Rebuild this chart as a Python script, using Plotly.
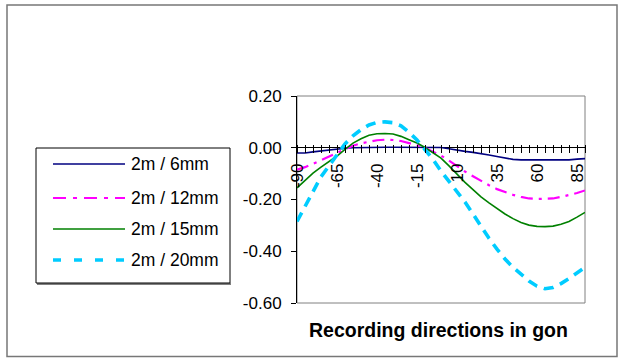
import plotly.graph_objects as go

gon = list(range(-90, 91, 5))
s6mm = [-0.020, -0.020, -0.016, -0.012, -0.010, -0.006, -0.002, 0.000, 0.001, 0.002,
        0.002, 0.002, 0.002, 0.002, 0.002, 0.002, 0.002, 0.002, 0.001, -0.004,
        -0.010, -0.014, -0.018, -0.022, -0.028, -0.034, -0.040, -0.045, -0.047, -0.047,
        -0.047, -0.047, -0.047, -0.047, -0.047, -0.044, -0.042]
s12mm = [-0.085, -0.075, -0.062, -0.048, -0.034, -0.020, -0.004, 0.008, 0.017, 0.024,
         0.029, 0.031, 0.030, 0.026, 0.019, 0.010, 0.000, -0.014, -0.030, -0.050,
         -0.072, -0.092, -0.110, -0.128, -0.145, -0.160, -0.172, -0.182, -0.190, -0.196,
         -0.198, -0.198, -0.196, -0.190, -0.183, -0.175, -0.165]
s15mm = [-0.155, -0.128, -0.098, -0.075, -0.054, -0.032, -0.006, 0.018, 0.035, 0.048,
         0.054, 0.055, 0.053, 0.044, 0.031, 0.018, 0.001, -0.018, -0.040, -0.070,
         -0.103, -0.134, -0.162, -0.190, -0.213, -0.235, -0.256, -0.274, -0.289, -0.299,
         -0.304, -0.305, -0.303, -0.296, -0.285, -0.268, -0.250]
s20mm = [-0.285, -0.228, -0.165, -0.112, -0.070, -0.030, 0.015, 0.046, 0.070, 0.088,
         0.098, 0.100, 0.097, 0.085, 0.060, 0.030, -0.005, -0.045, -0.090, -0.130,
         -0.165, -0.210, -0.256, -0.305, -0.350, -0.392, -0.430, -0.462, -0.490, -0.515,
         -0.535, -0.545, -0.540, -0.525, -0.505, -0.485, -0.462]
series_names = ["2m / 6mm", "2m / 12mm", "2m / 15mm", "2m / 20mm"]
x_label_values = [-90, -65, -40, -15, 10, 35, 60, 85]
y_tick_values = [0.20, 0.00, -0.20, -0.40, -0.60]
y_tick_labels = ["0.20", "0.00", "-0.20", "-0.40", "-0.60"]
x_title = "Recording directions in gon"

styles = [
    dict(color="#000080", width=1.6, dash="solid"),
    dict(color="#FF00FF", width=2.2, dash="12px,6px,3px,6px"),
    dict(color="#008000", width=1.6, dash="solid"),
    dict(color="#00CCFF", width=3.6, dash="10px,7px"),
]
legend_dashes = ["solid", "13px,7px,4px,7px", "solid", "8px,13px"]

W, H = 618, 358
L, R, T, B = 297, 585, 96, 303
PW, PH = R - L, B - T


def px(x):
    return (x - L) / PW


def py(y):
    return (B - y) / PH


FONT = "Liberation Sans, Arial, sans-serif"

fig = go.Figure()
for name, ys, st in zip(series_names, [s6mm, s12mm, s15mm, s20mm], styles):
    fig.add_trace(go.Scatter(x=gon, y=ys, name=name, mode="lines", line=st,
                             showlegend=False, hoverinfo="skip"))

ticktext = [str(v) if v in x_label_values else "" for v in gon]

fig.update_layout(
    width=W, height=H,
    margin=dict(l=L, r=W - R, t=T, b=H - B),
    paper_bgcolor="white", plot_bgcolor="white",
    font=dict(family=FONT, color="black", size=16),
    xaxis=dict(
        range=[-90, 90], tickvals=gon, ticktext=ticktext, tickangle=-90,
        anchor="free", position=0.75 + 4 / PH, side="bottom",
        showline=False, showgrid=False, zeroline=False,
        ticks="outside", ticklen=8, tickcolor="black", tickwidth=1,
        tickfont=dict(size=17, family=FONT), ticklabelstandoff=4,
    ),
    yaxis=dict(
        range=[-0.6, 0.2], tickvals=y_tick_values, ticktext=y_tick_labels,
        showline=True, linecolor="black", linewidth=1,
        showgrid=False, zeroline=True, zerolinecolor="black", zerolinewidth=1.2,
        ticks="outside", ticklen=5, tickcolor="black",
        tickfont=dict(size=17, family=FONT), ticklabelstandoff=6,
    ),
)

shapes = []
# plot area border
shapes.append(dict(type="rect", xref="paper", yref="paper", x0=0, x1=1, y0=0, y1=1,
                   line=dict(color="#808080", width=1), layer="below"))
# outer chart frame
shapes.append(dict(type="rect", xref="paper", yref="paper",
                   x0=px(7), x1=px(617), y0=py(356.5), y1=py(5),
                   line=dict(color="#777777", width=1.5), layer="below"))
# legend box
shapes.append(dict(type="line", xref="paper", yref="paper",
                   x0=px(37), x1=px(231), y0=py(284), y1=py(284),
                   line=dict(color="#808080", width=2), layer="below"))
shapes.append(dict(type="rect", xref="paper", yref="paper",
                   x0=px(36), x1=px(230), y0=py(283), y1=py(148),
                   line=dict(color="black", width=1), layer="below"))
rows = [164, 198, 229, 260]
annotations = []
for name, st, ld, ry in zip(series_names, styles, legend_dashes, rows):
    shapes.append(dict(type="line", xref="paper", yref="paper",
                       x0=px(53), x1=px(125), y0=py(ry), y1=py(ry),
                       line=dict(color=st["color"], width=st["width"], dash=ld)))
    annotations.append(dict(xref="paper", yref="paper", x=px(129), y=py(ry),
                            text=name, showarrow=False, xanchor="left", yanchor="middle",
                            font=dict(size=17.5, family=FONT, color="black")))
annotations.append(dict(xref="paper", yref="paper", x=px(438), y=py(330),
                        text="<b>" + x_title + "</b>", showarrow=False,
                        xanchor="center", yanchor="middle",
                        font=dict(size=19.5, family=FONT, color="black")))
fig.update_layout(shapes=shapes, annotations=annotations)

fig.write_html(
    "out.html",
    config={"displayModeBar": False},
    post_script="document.body.style.margin='0';document.body.style.overflow='hidden';",
)
